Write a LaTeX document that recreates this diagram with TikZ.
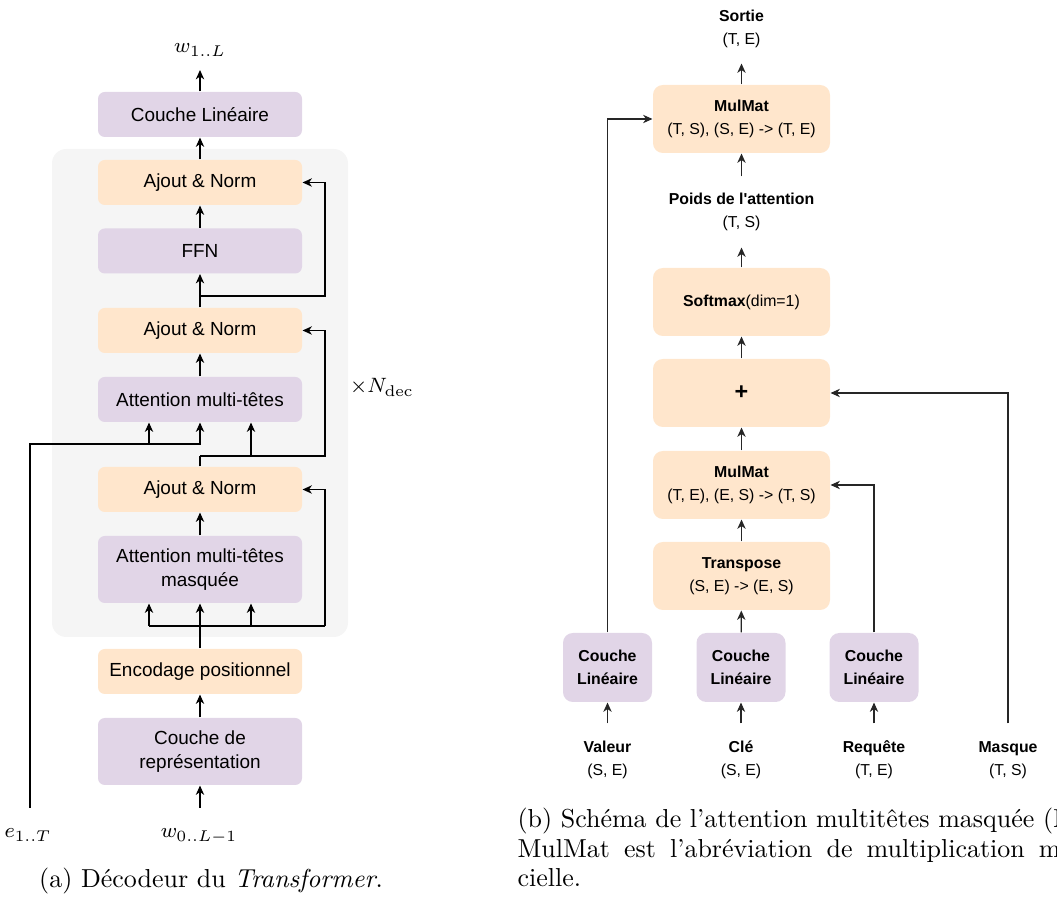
\documentclass[tikz,border=0pt]{standalone}
\usepackage{fontspec}
\newfontfamily\dsans{Liberation Sans}
\usetikzlibrary{arrows.meta}
\definecolor{lilac}{HTML}{E1D5E7}
\definecolor{peach}{HTML}{FFE6CC}
\definecolor{panel}{HTML}{F5F5F5}
\newcommand\pxu{0.385pt}

\begin{document}
\begin{tikzpicture}[x=0.385pt,y=-0.385pt,
  arr/.style={-{Stealth[length=3.6pt,width=3.2pt,inset=1.1pt]}},
  lwire/.style={line width=0.55pt},
  rwire/.style={line width=0.45pt,draw=black!85},
  lbox/.style={rounded corners=2.6pt, minimum width=204*\pxu, minimum height=45*\pxu,
    inner sep=0pt, align=center, font=\dsans\fontsize{7.3}{9}\selectfont},
  rbox/.style={rounded corners=3.8pt, fill=peach, minimum width=177*\pxu, minimum height=68*\pxu,
    inner sep=0pt, align=center, font=\dsans\fontsize{6.1}{8.9}\selectfont},
  rlin/.style={rbox, fill=lilac, minimum width=89*\pxu, minimum height=69*\pxu},
  rlab/.style={inner sep=0pt, align=center, font=\dsans\fontsize{6.1}{8.9}\selectfont},
  mlab/.style={inner sep=0pt, anchor=base, font=\fontsize{8}{9.6}\selectfont},
  capt/.style={inner sep=0pt, font=\fontsize{10}{12}\selectfont}
]
\useasboundingbox (0,0) rectangle (1057,901);
\clip (0,0) rectangle (1057,901);

% ---------------- (a) decoder ----------------
\fill[panel, rounded corners=5.5pt] (52,149) rectangle (348,637);

\node[lbox,fill=lilac] (lin)  at (200,114.5) {Couche Linéaire};
\node[lbox,fill=peach] (an1)  at (200,182.5) {Ajout \& Norm};
\node[lbox,fill=lilac] (ffn)  at (200,251)   {FFN};
\node[lbox,fill=peach] (an2)  at (200,330.5) {Ajout \& Norm};
\node[lbox,fill=lilac] (mha)  at (200,399.5) {Attention multi-têtes};
\node[lbox,fill=peach] (an3)  at (200,489.5) {Ajout \& Norm};
\node[lbox,fill=lilac,minimum height=67*\pxu] (mmha) at (200,569.5) {Attention multi-têtes\\masquée};
\node[lbox,fill=peach] (pe)   at (200,671.5) {Encodage positionnel};
\node[lbox,fill=lilac,minimum height=67*\pxu] (emb)  at (200,751.5) {Couche de\\représentation};

\node[mlab] (wout) at (200,53) {$w_{1..L}$};
\node[mlab] (wlab) at (199,838) {$w_{0..L-1}$};
\node[mlab] (elab) at (28,838) {$e_{1..T}$};
\node[mlab] (ndec) at (382,393) {$\times N_{\mathrm{dec}}$};

\coordinate (wtip) at (200,70);
\coordinate (win)  at (200,808);
\coordinate (ein)  at (30,808);
\coordinate (rail) at (325,0);
\coordinate (xk)   at (149,0);
\coordinate (xq)   at (251,0);
\coordinate (s1)   at (200,296);
\coordinate (s2)   at (200,456);
\coordinate (s3)   at (200,444);
\coordinate (s4)   at (200,626);

\begin{scope}[lwire]
\draw[arr] (lin) -- (wtip);
\draw[arr] (an1) -- (lin);
\draw[arr] (ffn) -- (an1);
\draw[arr] (an2) -- (ffn);
\draw[arr] (s1) -- (s1 -| rail) |- (an1.east);
\draw[arr] (mha) -- (an2);
\draw (an3) -- (s2);
\draw[arr] (s2) -- (s2 -| rail) |- (an2.east);
\draw[arr] (s2 -| xq) -- (xq |- mha.south);
\draw[arr] (ein) |- (s3) -- (mha);
\draw[arr] (s3 -| xk) -- (xk |- mha.south);
\draw[arr] (mmha) -- (an3);
\draw (pe) -- (s4);
\draw (s4 -| xk) -- (s4 -| rail);
\draw[arr] (s4 -| xk) -- (xk |- mmha.south);
\draw[arr] (s4) -- (mmha);
\draw[arr] (s4 -| xq) -- (xq |- mmha.south);
\draw[arr] (s4 -| rail) |- (an3.east);
\draw[arr] (emb) -- (pe);
\draw[arr] (win) -- (emb);
\end{scope}

\node[capt, anchor=base] (capa) at (211,888) {(a) Décodeur du \textit{Transformer}.};

% ---------------- (b) masked multi-head attention ----------------
\node[rbox] (mm1)  at (741.5,119) {\textbf{MulMat}\\(T, S), (S, E) -> (T, E)};
\node[rbox] (sm)   at (741.5,302) {\textbf{Softmax}(dim=1)};
\node[rbox] (plus) at (741.5,393) {\fontsize{9}{9}\selectfont\textbf{+}};
\node[rbox] (mm2)  at (741.5,485) {\textbf{MulMat}\\(T, E), (E, S) -> (T, S)};
\node[rbox] (tr)   at (741.5,576) {\textbf{Transpose}\\(S, E) -> (E, S)};

\node[rlin] (lv) at (607.5,667.5) {\textbf{Couche}\\\textbf{Linéaire}};
\node[rlin] (lk) at (741,667.5)   {\textbf{Couche}\\\textbf{Linéaire}};
\node[rlin] (lq) at (874,667.5)   {\textbf{Couche}\\\textbf{Linéaire}};

\node[rlab, minimum height=69*\pxu] (out)   at (741.5,28.5) {\textbf{Sortie}\\(T, E)};
\node[rlab, minimum height=70*\pxu] (poids) at (741.5,212)  {\textbf{Poids de l'attention}\\(T, S)};
\node[rlab, minimum height=72*\pxu] (val)   at (607.5,760)  {\textbf{Valeur}\\(S, E)};
\node[rlab, minimum height=72*\pxu] (cle)   at (741,760)    {\textbf{Clé}\\(S, E)};
\node[rlab, minimum height=72*\pxu] (req)   at (874,760)    {\textbf{Requête}\\(T, E)};
\node[rlab, minimum height=72*\pxu] (mask)  at (1008,760)   {\textbf{Masque}\\(T, S)};

\begin{scope}[rwire]
\draw[arr] (mm1) -- (out);
\draw[arr] (poids) -- (mm1);
\draw[arr] (sm) -- (poids);
\draw[arr] (plus) -- (sm);
\draw[arr] (mm2) -- (plus);
\draw[arr] (tr) -- (mm2);
\draw[arr] (lk) -- (tr);
\draw[arr] (lv.north) |- (mm1.west);
\draw[arr] (lq.north) |- (mm2.east);
\draw[arr] (mask.north) |- (plus.east);
\draw[arr] (val) -- (lv);
\draw[arr] (cle) -- (lk);
\draw[arr] (req) -- (lq);
\end{scope}

\node[capt, anchor=base west] (capb1) at (517,828) {(b) Schéma de l’attention multitêtes masquée (MHA).};
\node[capt, anchor=base west] (capb2) at (517,858) {\makebox[228pt][s]{MulMat est l’abréviation de multiplication matri-}};
\node[capt, anchor=base west] (capb3) at (517,887) {cielle.};
\end{tikzpicture}
\end{document}
